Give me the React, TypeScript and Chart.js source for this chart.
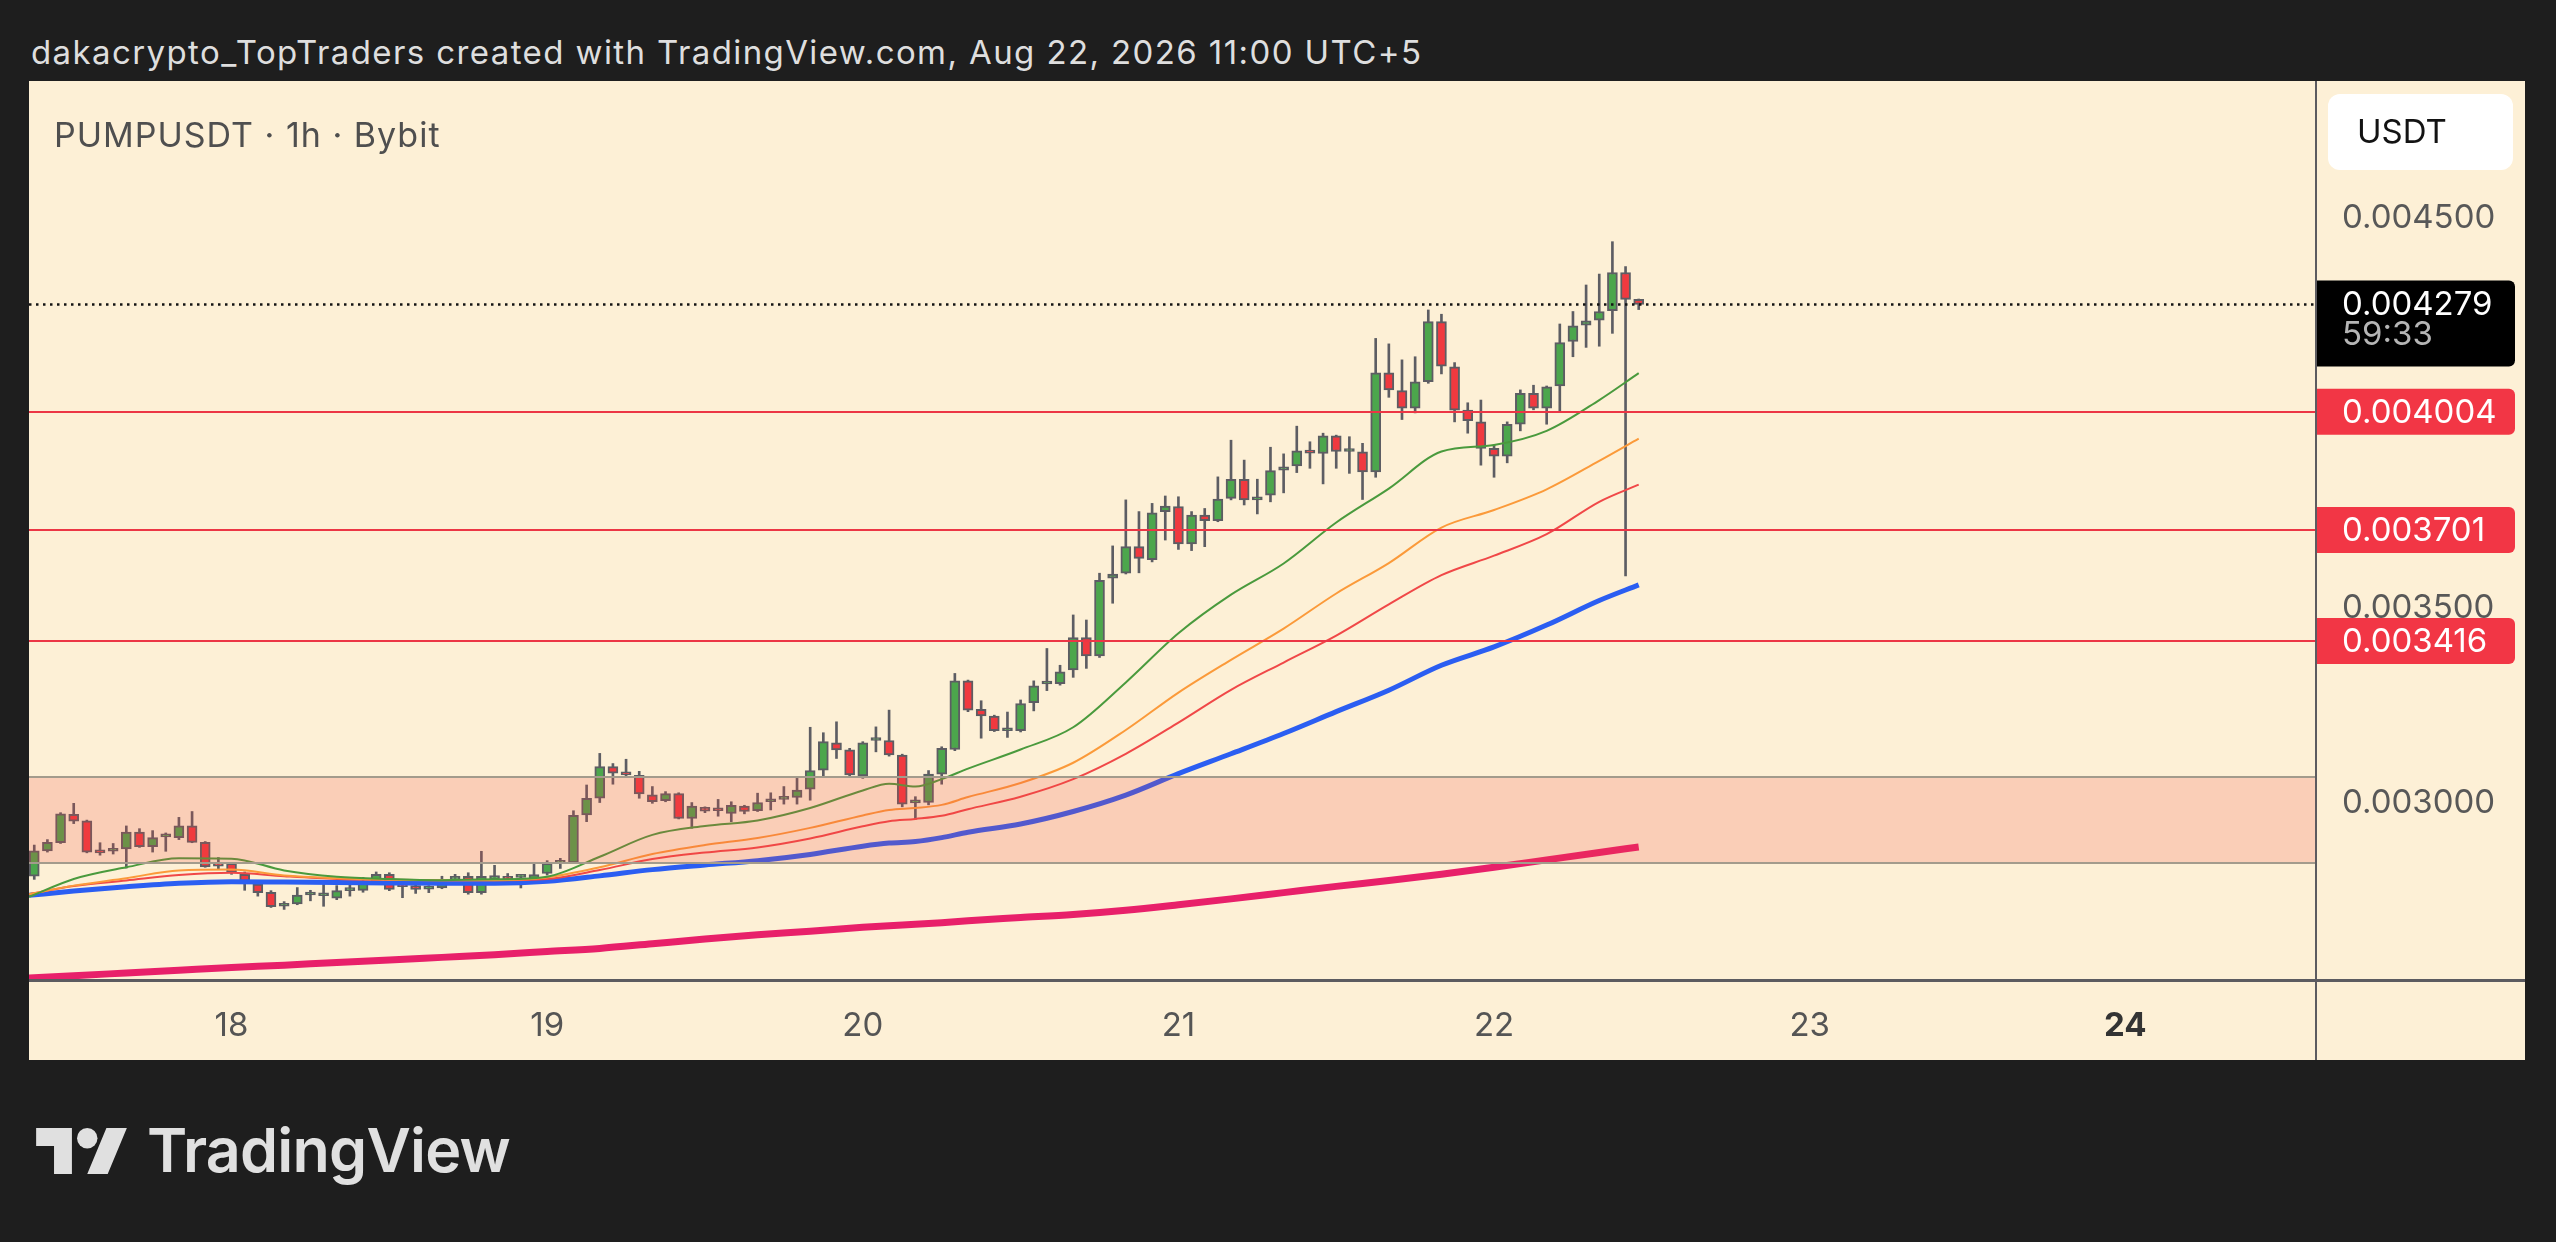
import React, { useEffect, useRef } from "react";
import { Chart, registerables } from "chart.js";

Chart.register(...registerables);

// ---------- data (hours relative to Aug 18 00:00) ----------
const FIRST_HOUR = -15;
const OPEN = [
  0.002813, 0.002878, 0.002899, 0.002972, 0.002955, 0.002875, 0.002877, 0.002883, 0.002926, 0.002889,
  0.002914, 0.002912, 0.002942, 0.0029, 0.002842, 0.002846, 0.002818, 0.002793, 0.002772, 0.002736,
  0.002742, 0.002765, 0.002763, 0.002757, 0.002776, 0.002777, 0.0028, 0.002818, 0.002789, 0.002789,
  0.00278, 0.002783, 0.002803, 0.002813, 0.002771, 0.002805, 0.002813, 0.00281, 0.002805, 0.00282,
  0.002846, 0.002847, 0.00297, 0.003013, 0.003094, 0.003078, 0.003072, 0.003022, 0.003007, 0.003025,
  0.002961, 0.00299, 0.002983, 0.002974, 0.002993, 0.002981, 0.003004, 0.00301, 0.003015, 0.003036,
  0.003085, 0.003155, 0.003137, 0.00307, 0.003161, 0.003161, 0.003124, 0.003001, 0.003002, 0.003075,
  0.003138, 0.003314, 0.003241, 0.003224, 0.003186, 0.003186, 0.003258, 0.003306, 0.003307, 0.003342,
  0.003425, 0.003378, 0.003577, 0.00359, 0.003658, 0.003625, 0.003748, 0.003761, 0.003665, 0.003739,
  0.003725, 0.003782, 0.003831, 0.003778, 0.00379, 0.003854, 0.003865, 0.003904, 0.003897, 0.003942,
  0.003902, 0.003901, 0.00385, 0.004104, 0.004058, 0.004013, 0.004081, 0.004235, 0.004119, 0.004008,
  0.003978, 0.00391, 0.00389, 0.003972, 0.004051, 0.004013, 0.00407, 0.004184, 0.004226, 0.004239,
  0.004263, 0.004361, 0.004292,
];
const HIGH = [
  0.002893, 0.002907, 0.002976, 0.003, 0.002957, 0.002899, 0.002897, 0.002942, 0.002935, 0.00293,
  0.002924, 0.002964, 0.002979, 0.002902, 0.002861, 0.002848, 0.002824, 0.002796, 0.002776, 0.002748,
  0.002784, 0.002777, 0.002796, 0.002789, 0.002796, 0.00281, 0.002824, 0.002822, 0.002794, 0.002796,
  0.002789, 0.002813, 0.002818, 0.002822, 0.002877, 0.002841, 0.00282, 0.002815, 0.002846, 0.002853,
  0.002859, 0.002981, 0.003047, 0.003128, 0.003102, 0.003113, 0.003082, 0.003043, 0.00303, 0.003027,
  0.003002, 0.002991, 0.00301, 0.003004, 0.002995, 0.003026, 0.003027, 0.003043, 0.003064, 0.003195,
  0.003181, 0.003209, 0.003141, 0.003158, 0.003196, 0.003239, 0.003126, 0.003017, 0.003084, 0.003145,
  0.003333, 0.003316, 0.003263, 0.003226, 0.003234, 0.003265, 0.003314, 0.003397, 0.003354, 0.003483,
  0.00347, 0.00359, 0.00366, 0.003778, 0.003748, 0.003769, 0.003788, 0.003786, 0.003748, 0.003756,
  0.003837, 0.003931, 0.00388, 0.003831, 0.003913, 0.003896, 0.003967, 0.003927, 0.003949, 0.003944,
  0.00394, 0.003923, 0.004192, 0.004178, 0.004137, 0.004145, 0.004265, 0.004254, 0.00413, 0.004027,
  0.004034, 0.003919, 0.003978, 0.00406, 0.004072, 0.00407, 0.004229, 0.004261, 0.004329, 0.004357,
  0.00444, 0.004376, 0.004293,
];
const LOW = [
  0.002805, 0.002875, 0.002897, 0.002948, 0.002873, 0.002867, 0.00287, 0.002834, 0.002887, 0.002875,
  0.002877, 0.002907, 0.002899, 0.002836, 0.002832, 0.002818, 0.002777, 0.002762, 0.002733, 0.002728,
  0.00274, 0.00275, 0.002736, 0.002753, 0.002762, 0.002772, 0.002796, 0.002776, 0.002758, 0.002769,
  0.002771, 0.002781, 0.0028, 0.002767, 0.002767, 0.002803, 0.002801, 0.002783, 0.002801, 0.002816,
  0.002833, 0.002846, 0.002953, 0.003002, 0.003049, 0.003068, 0.003013, 0.003, 0.003004, 0.00296,
  0.002936, 0.002976, 0.002967, 0.002953, 0.002973, 0.002979, 0.002983, 0.002998, 0.002998, 0.003008,
  0.003067, 0.003115, 0.00307, 0.003064, 0.003132, 0.003121, 0.002991, 0.002959, 0.002996, 0.003049,
  0.003135, 0.003235, 0.003167, 0.003184, 0.003169, 0.003183, 0.003237, 0.003289, 0.003303, 0.003323,
  0.003346, 0.003374, 0.003513, 0.003588, 0.003591, 0.003619, 0.003675, 0.003651, 0.003648, 0.003658,
  0.003722, 0.003778, 0.003765, 0.003742, 0.003773, 0.003796, 0.003848, 0.003859, 0.003819, 0.003859,
  0.003846, 0.003779, 0.003836, 0.004041, 0.003984, 0.004001, 0.004077, 0.004101, 0.003978, 0.003949,
  0.003867, 0.003836, 0.003873, 0.003955, 0.004009, 0.003972, 0.004004, 0.004145, 0.004169, 0.004172,
  0.004205, 0.003583, 0.004266,
];
const CLOSE = [
  0.002878, 0.0029, 0.002973, 0.002954, 0.002875, 0.002873, 0.00288, 0.002926, 0.002889, 0.002912,
  0.002916, 0.002942, 0.0029, 0.002837, 0.002839, 0.002822, 0.0028, 0.002771, 0.002735, 0.002738,
  0.002765, 0.002767, 0.002765, 0.002776, 0.002779, 0.0028, 0.002818, 0.002779, 0.002786, 0.002779,
  0.002783, 0.0028, 0.002813, 0.002771, 0.002813, 0.002815, 0.002805, 0.002811, 0.002817, 0.002846,
  0.002849, 0.002969, 0.003013, 0.003094, 0.003077, 0.003073, 0.003024, 0.003004, 0.003025, 0.002961,
  0.002993, 0.00298, 0.002981, 0.002995, 0.002979, 0.003002, 0.00301, 0.003015, 0.003034, 0.003084,
  0.003158, 0.003137, 0.003073, 0.003155, 0.003164, 0.003124, 0.002998, 0.003004, 0.003075, 0.003141,
  0.003314, 0.003239, 0.003224, 0.003186, 0.003191, 0.003256, 0.003301, 0.00331, 0.003337, 0.003425,
  0.003378, 0.003572, 0.003588, 0.003658, 0.003628, 0.003745, 0.003762, 0.003665, 0.003739, 0.003725,
  0.00378, 0.003831, 0.003778, 0.003786, 0.003853, 0.003863, 0.003904, 0.003898, 0.003942, 0.003902,
  0.003906, 0.00385, 0.004104, 0.00406, 0.004013, 0.004081, 0.004235, 0.004121, 0.004008, 0.003981,
  0.00391, 0.00389, 0.003972, 0.004051, 0.004013, 0.004068, 0.004181, 0.004224, 0.004237, 0.004261,
  0.004361, 0.004292, 0.004279,
];

// moving averages, sampled at these hours
const MA_HOURS = [
  -15.4, -12, -8, -4, 0, 4, 8, 12, 16, 20, 24, 28, 32, 36, 40, 44, 48, 50, 52, 54, 56, 60, 64, 68,
  72, 76, 80, 84, 88, 92, 96, 100, 104, 107,
];
const MA_GREEN = [
  0.00276, 0.002806, 0.002836, 0.002859, 0.002858, 0.002828, 0.002812, 0.002806, 0.002803, 0.002805,
  0.002812, 0.002863, 0.002919, 0.002942, 0.002956, 0.002988, 0.003033, 0.00305, 0.003043, 0.003062,
  0.003089, 0.003138, 0.003195, 0.00331, 0.003436, 0.003535, 0.003615, 0.00372, 0.003807, 0.003902,
  0.003919, 0.003955, 0.004034, 0.004103,
];
const MA_ORANGE = [
  0.002767, 0.002789, 0.002808, 0.002828, 0.00283, 0.002815, 0.002808, 0.002804, 0.002803, 0.002803,
  0.00281, 0.002836, 0.00287, 0.002893, 0.002911, 0.002937, 0.002969, 0.002983, 0.002988, 0.002996,
  0.003016, 0.003052, 0.003104, 0.003188, 0.003284, 0.003368, 0.003448, 0.003538, 0.003616, 0.003707,
  0.003752, 0.003805, 0.003878, 0.003935,
];
const MA_RED = [
  0.002767, 0.002788, 0.002802, 0.002816, 0.002822, 0.002813, 0.002806, 0.002804, 0.002803, 0.002803,
  0.002806, 0.002829, 0.002857, 0.002874, 0.002887, 0.00291, 0.002941, 0.002954, 0.00296, 0.002968,
  0.002985, 0.003017, 0.003062, 0.003127, 0.003207, 0.003291, 0.003361, 0.00343, 0.00351, 0.003585,
  0.003635, 0.00369, 0.003773, 0.003817,
];
const MA_BLUE = [
  0.002764, 0.002775, 0.002786, 0.002795, 0.002799, 0.002798, 0.002797, 0.002796, 0.002795, 0.002795,
  0.0028, 0.002814, 0.00283, 0.002842, 0.002853, 0.002869, 0.00289, 0.002898, 0.002902, 0.002912,
  0.002926, 0.002947, 0.002979, 0.003021, 0.003076, 0.003127, 0.003179, 0.003235, 0.00329, 0.003354,
  0.003401, 0.003457, 0.00352, 0.00356,
];
const MA_PINK = [
  0.002552, 0.002558, 0.002565, 0.002572, 0.002579, 0.002585, 0.002592, 0.002598, 0.002605, 0.002612,
  0.00262, 0.002628, 0.00264, 0.002652, 0.002663, 0.002672, 0.002682, 0.002686, 0.00269, 0.002694,
  0.002699, 0.002707, 0.002715, 0.002726, 0.00274, 0.002755, 0.002771, 0.002787, 0.002802, 0.002818,
  0.002836, 0.002855, 0.002874, 0.002888,
];

const LEVELS = [0.004004, 0.003701, 0.003416];
const LEVEL_LABELS = ["0.004004", "0.003701", "0.003416"];
const ZONE_LOW = 0.0028468;
const ZONE_HIGH = 0.0030666;
const LAST_PRICE = 0.004279;
const LAST_PRICE_LABEL = "0.004279";
const COUNTDOWN = "59:33";
const Y_TICKS = [0.003, 0.0035, 0.004, 0.0045];
const DAY_TICK_HOURS = [0, 24, 48, 72, 96, 120, 144];
const DAY_LABELS = ["18", "19", "20", "21", "22", "23", "24"];
const X_MIN = -15.4;
const X_MAX = 158.5;
const Y_MIN = 0.002547;
const Y_MAX = 0.004852;

const TITLE = "dakacrypto_TopTraders created with TradingView.com, Aug 22, 2026 11:00 UTC+5";
const SYMBOL = "PUMPUSDT · 1h · Bybit";
const CURRENCY = "USDT";

const FONT = "Inter, 'Noto Sans', sans-serif";
const CANVAS_W = 2496;
const CANVAS_H = 979;

const zeroPad = (s: any) => {
  s.paddingTop = 0;
  s.paddingBottom = 0;
  s.paddingLeft = 0;
  s.paddingRight = 0;
};

const overlayPlugin = {
  id: "tvOverlay",
  afterDatasetsDraw(chart: any) {
    const { ctx, chartArea: a, scales } = chart;
    const y = scales.y;
    ctx.save();
    ctx.beginPath();
    ctx.rect(a.left, a.top, a.right - a.left, a.bottom - a.top);
    ctx.clip();
    const yt = y.getPixelForValue(ZONE_HIGH);
    const yb = y.getPixelForValue(ZONE_LOW);
    ctx.fillStyle = "rgba(242, 70, 60, 0.2)";
    ctx.fillRect(a.left, yt, a.right - a.left, yb - yt);
    ctx.strokeStyle = "#a39b8c";
    ctx.lineWidth = 2;
    for (const yy of [yt, yb]) {
      ctx.beginPath();
      ctx.moveTo(a.left, Math.round(yy));
      ctx.lineTo(a.right, Math.round(yy));
      ctx.stroke();
    }
    ctx.strokeStyle = "#ec3645";
    ctx.lineWidth = 2;
    for (const lv of LEVELS) {
      const yy = Math.round(y.getPixelForValue(lv));
      ctx.beginPath();
      ctx.moveTo(a.left, yy);
      ctx.lineTo(a.right, yy);
      ctx.stroke();
    }
    const yp = Math.round(y.getPixelForValue(LAST_PRICE)) + 0.5;
    ctx.strokeStyle = "#131313";
    ctx.lineWidth = 2.5;
    ctx.setLineDash([2.5, 4.5]);
    ctx.beginPath();
    ctx.moveTo(a.left, yp);
    ctx.lineTo(a.right, yp);
    ctx.stroke();
    ctx.restore();
  },
  afterDraw(chart: any) {
    const { ctx, chartArea: a, scales, width, height } = chart;
    const y = scales.y;
    ctx.save();
    // axis separators
    ctx.fillStyle = "#5c5b60";
    ctx.fillRect(0, Math.round(a.bottom) - 1, width, 3);
    ctx.fillRect(Math.round(a.right) - 1, 0, 2, height);

    // symbol caption
    ctx.font = `34px ${FONT}`;
    (ctx as any).letterSpacing = "1px";
    ctx.fillStyle = "#4f4f4f";
    ctx.textBaseline = "alphabetic";
    ctx.textAlign = "left";
    ctx.fillText(SYMBOL, 25, 66);
    (ctx as any).letterSpacing = "0px";

    ctx.font = `33px ${FONT}`;
    // currency box
    const bx = a.right + 12;
    ctx.fillStyle = "#ffffff";
    ctx.beginPath();
    ctx.roundRect(bx, 13, 185, 76, 12);
    ctx.fill();
    ctx.fillStyle = "#131313";
    ctx.textBaseline = "middle";
    ctx.fillText(CURRENCY, a.right + 41, 52);

    const lx = a.right + 26;
    const boxW = 199;
    // level labels
    LEVELS.forEach((lv, i) => {
      const yy = y.getPixelForValue(lv);
      ctx.fillStyle = "#f23645";
      ctx.beginPath();
      ctx.roundRect(a.right + 1, yy - 23, boxW - 1, 46, [0, 6, 6, 0]);
      ctx.fill();
      ctx.fillStyle = "#ffffff";
      ctx.fillText(LEVEL_LABELS[i], lx, yy + 1);
    });
    // last price label
    const yp = y.getPixelForValue(LAST_PRICE);
    ctx.fillStyle = "#000000";
    ctx.beginPath();
    ctx.roundRect(a.right + 1, yp - 24, boxW - 1, 86, [0, 6, 6, 0]);
    ctx.fill();
    ctx.fillStyle = "#ffffff";
    ctx.fillText(LAST_PRICE_LABEL, lx, yp + 1);
    ctx.fillStyle = "#b5b5b5";
    ctx.fillText(COUNTDOWN, lx, yp + 31);
    ctx.restore();
  },
};

export default function App() {
  const ref = useRef<HTMLCanvasElement | null>(null);

  useEffect(() => {
    if (!ref.current) return;
    Chart.defaults.font.family = FONT;
    const hours = OPEN.map((_, i) => FIRST_HOUR + i);
    const bodyColors = OPEN.map((o, i) => (CLOSE[i] >= o ? "#4ca64c" : "#f0393f"));
    const ma = (vals: number[]) => MA_HOURS.map((h, i) => ({ x: h, y: vals[i] }));
    const lineDs = (label: string, vals: number[], color: string, width: number, order: number) => ({
      type: "line" as const,
      label,
      data: ma(vals),
      borderColor: color,
      borderWidth: width,
      pointRadius: 0,
      cubicInterpolationMode: "monotone" as const,
      order,
    });

    const chart = new Chart(ref.current, {
      type: "bar",
      data: {
        datasets: [
          {
            type: "bar",
            label: "wick",
            data: hours.map((h, i) => ({ x: h, y: [LOW[i], HIGH[i]] })) as any,
            backgroundColor: "#5d5d63",
            barThickness: 2,
            grouped: false,
            order: 10,
          },
          {
            type: "bar",
            label: "body",
            data: hours.map((h, i) => ({ x: h, y: [OPEN[i], CLOSE[i]] })) as any,
            backgroundColor: bodyColors,
            borderColor: "#5d5d63",
            borderWidth: 2,
            borderSkipped: false,
            barThickness: 10,
            minBarLength: 3,
            grouped: false,
            order: 9,
          },
          lineDs("MA 200", MA_PINK, "#e8206a", 7, 5),
          lineDs("EMA 100", MA_BLUE, "#2b5ef2", 5, 4),
          lineDs("EMA 50", MA_RED, "#f04848", 2, 3),
          lineDs("EMA 34", MA_ORANGE, "#fb9a3a", 2, 2),
          lineDs("EMA 20", MA_GREEN, "#4a9a3d", 2, 1),
        ] as any,
      },
      options: {
        animation: false,
        responsive: false,
        events: [],
        layout: { padding: 0 },
        plugins: { legend: { display: false }, tooltip: { enabled: false } },
        scales: {
          x: {
            type: "linear",
            min: X_MIN,
            max: X_MAX,
            offset: false,
            grid: { display: false },
            border: { display: false },
            afterBuildTicks: (s: any) => {
              s.ticks = DAY_TICK_HOURS.map((v) => ({ value: v }));
            },
            afterFit: (s: any) => {
              s.height = 80;
              zeroPad(s);
            },
            ticks: {
              autoSkip: false,
              maxRotation: 0,
              padding: 18,
              color: (c: any) => (c.tick && c.tick.value === 144 ? "#333333" : "#555555"),
              font: (c: any) => ({
                family: FONT,
                size: 33,
                weight: c.tick && c.tick.value === 144 ? "bold" : "normal",
              }),
              callback: (v: any) => DAY_LABELS[DAY_TICK_HOURS.indexOf(Number(v))] ?? "",
            },
          },
          y: {
            type: "linear",
            position: "right",
            min: Y_MIN,
            max: Y_MAX,
            grid: { display: false },
            border: { display: false },
            afterBuildTicks: (s: any) => {
              s.ticks = Y_TICKS.map((v) => ({ value: v }));
            },
            afterFit: (s: any) => {
              s.width = 209;
              zeroPad(s);
            },
            ticks: {
              padding: 18,
              color: "#585858",
              font: { family: FONT, size: 33 },
              callback: (v: any) => Number(v).toFixed(6),
            },
          },
        },
      },
      plugins: [overlayPlugin],
    });
    return () => chart.destroy();
  }, []);

  return (
    <div
      style={{
        position: "fixed",
        inset: 0,
        background: "#1e1e1e",
        overflow: "hidden",
        fontFamily: FONT,
      }}
    >
      <div
        style={{
          position: "absolute",
          left: 31,
          top: 36,
          fontSize: 33,
          lineHeight: "33px",
          letterSpacing: 1.4,
          color: "#dedede",
          whiteSpace: "nowrap",
        }}
      >
        {TITLE}
      </div>
      <div
        style={{
          position: "absolute",
          left: 29,
          top: 81,
          width: CANVAS_W,
          height: CANVAS_H,
          background: "#fdf0d6",
        }}
      >
        <canvas ref={ref} width={CANVAS_W} height={CANVAS_H} style={{ width: CANVAS_W, height: CANVAS_H, display: "block" }} />
      </div>
      <svg
        style={{ position: "absolute", left: 36, top: 1128 }}
        width={91}
        height={46}
        viewBox="0 4 35.5 18"
        fill="#e0e0e0"
      >
        <path d="M14 22H7V11H0V4h14v18zM28 22h-8l7.5-18h8L28 22z" />
        <circle cx="20" cy="8" r="4" />
      </svg>
      <div
        style={{
          position: "absolute",
          left: 147,
          top: 1120,
          fontSize: 61,
          lineHeight: "61px",
          fontWeight: 600,
          letterSpacing: -0.8,
          color: "#e0e0e0",
          whiteSpace: "nowrap",
        }}
      >
        TradingView
      </div>
    </div>
  );
}
